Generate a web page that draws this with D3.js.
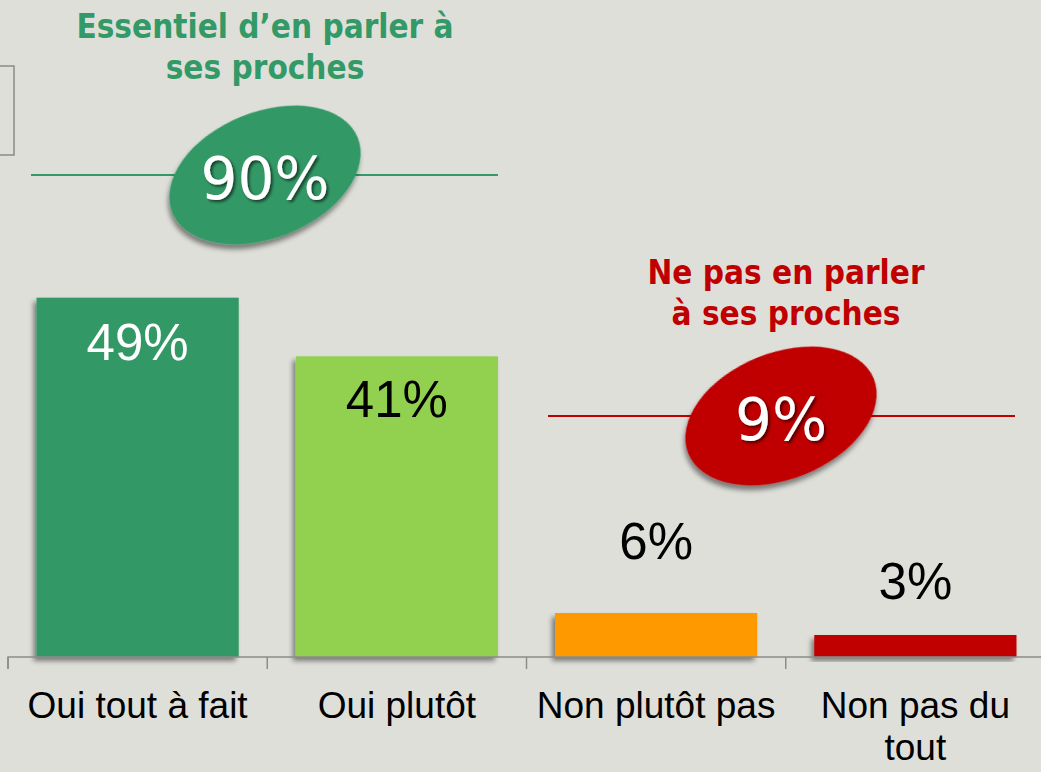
<!DOCTYPE html>
<html><head><meta charset="utf-8">
<script src="https://cdn.jsdelivr.net/npm/d3@7"></script>
<style>html,body{margin:0;padding:0;background:#dfdfda;overflow:hidden}</style>
</head><body>
<svg id="c" width="1041" height="772"></svg>
<script>
const categories = ["Oui tout à fait", "Oui plutôt", "Non plutôt pas", "Non pas du tout"];
const values = [49, 41, 6, 3];
const barColors = ["#339966", "#92d050", "#ff9900", "#c00000"];
const labelColors = ["#ffffff", "#000000", "#000000", "#000000"];
const groupTitles = ["Essentiel d\u2019en parler à|ses proches", "Ne pas en parler|à ses proches"];
const groupTotals = ["90%", "9%"];
const groupColors = ["#339966", "#c00000"];

const svg = d3.select("#c");
const W = 1041, H = 772;
svg.append("rect").attr("width", W).attr("height", H).attr("fill", "#dfdfda");

const defs = svg.append("defs");
const f = defs.append("filter").attr("id", "sh").attr("x", "-20%").attr("y", "-20%").attr("width", "140%").attr("height", "140%");
f.append("feDropShadow").attr("dx", -3).attr("dy", 4).attr("stdDeviation", 2.5).attr("flood-color", "#000").attr("flood-opacity", 0.45);
const f2 = defs.append("filter").attr("id", "tsh").attr("x", "-20%").attr("y", "-20%").attr("width", "140%").attr("height", "140%");
f2.append("feDropShadow").attr("dx", 2).attr("dy", 2).attr("stdDeviation", 1.5).attr("flood-color", "#000").attr("flood-opacity", 0.6);

// left frame fragment
svg.append("rect").attr("x", -20).attr("y", 66).attr("width", 34).attr("height", 89)
  .attr("fill", "none").attr("stroke", "#8a8a8a").attr("stroke-width", 1.5);

const x = d3.scaleBand().domain(categories).range([8, 1045]).paddingInner(0.22).paddingOuter(0.11);
const y = d3.scaleLinear().domain([0, 60]).range([657, 217]);

svg.selectAll("rect.bar").data(values).join("rect").attr("class", "bar")
  .attr("x", (d, i) => x(categories[i])).attr("y", d => y(d))
  .attr("width", x.bandwidth()).attr("height", d => y(0) - y(d))
  .attr("fill", (d, i) => barColors[i]).attr("filter", "url(#sh)");

// axis
const axis = d3.axisBottom(x).tickSize(12).tickFormat("");
const ag = svg.append("g").attr("transform", `translate(0,${y(0)})`).call(axis);
ag.select(".domain").attr("d", `M8,12V0H1045`).attr("stroke", "#8c8c8c").attr("stroke-width", 1.5);
ag.selectAll(".tick").remove();
const edges = categories.map(c => x(c) - x.step() * x.paddingInner() / 2).concat([1045]);
edges[0] = 8;
ag.selectAll("line.tk").data(edges).join("line").attr("class", "tk")
  .attr("x1", d => d).attr("x2", d => d).attr("y1", 0).attr("y2", 12)
  .attr("stroke", "#8c8c8c").attr("stroke-width", 1.5);

// category labels
const lblFont = "'Liberation Sans', Arial, sans-serif";
categories.forEach((c, i) => {
  const lines = c === "Non pas du tout" ? ["Non pas du", "tout"] : [c];
  const t = svg.append("text").attr("x", x(c) + x.bandwidth() / 2).attr("y", 718)
    .attr("text-anchor", "middle").attr("font-family", lblFont).attr("font-size", 37)
    .attr("fill", "#000");
  lines.forEach((l, j) => t.append("tspan").attr("x", x(c) + x.bandwidth() / 2).attr("dy", j ? 42 : 0).text(l));
});

// value labels (offset from bar top)
const labelOffsets = [62, 61, -54, -36];
values.forEach((v, i) => {
  const cx = x(categories[i]) + x.bandwidth() / 2;
  svg.append("text").attr("x", cx).attr("y", y(v) + labelOffsets[i])
    .attr("text-anchor", "middle").attr("font-family", "'Liberation Sans', Arial, sans-serif")
    .attr("font-size", 51).attr("fill", labelColors[i]).text(v + "%");
});

// group callouts
const groups = [
  { x1: 31, x2: 498, ly: 175, cx: 265, cy: 175, tx: 265, ty: 38 },
  { x1: 548, x2: 1015, ly: 416, cx: 781, cy: 416, tx: 786, ty: 284 }
];
groups.forEach((g, i) => {
  const lines = groupTitles[i].split("|");
  lines.forEach((l, j) => {
    svg.append("text").attr("transform", `translate(${g.tx},${g.ty + j * 41}) scale(0.9,1)`)
      .attr("text-anchor", "middle")
      .attr("font-family", "'DejaVu Sans', Tahoma, sans-serif").attr("font-weight", "bold")
      .attr("font-size", 33).attr("fill", groupColors[i]).text(l);
  });
  svg.append("line").attr("x1", g.x1).attr("x2", g.x2).attr("y1", g.ly).attr("y2", g.ly)
    .attr("stroke", groupColors[i]).attr("stroke-width", 2);
  svg.append("ellipse").attr("cx", 0).attr("cy", 0).attr("rx", 100).attr("ry", 63)
    .attr("transform", `translate(${g.cx},${g.cy}) rotate(-22)`)
    .attr("fill", groupColors[i]).attr("filter", "url(#sh)");
  svg.append("text").attr("x", g.cx).attr("y", g.cy + 24).attr("text-anchor", "middle")
    .attr("font-family", "'DejaVu Sans', Tahoma, sans-serif").attr("font-size", 58)
    .attr("fill", "#fff").attr("filter", "url(#tsh)").text(groupTotals[i]);
});
</script>
</body></html>
